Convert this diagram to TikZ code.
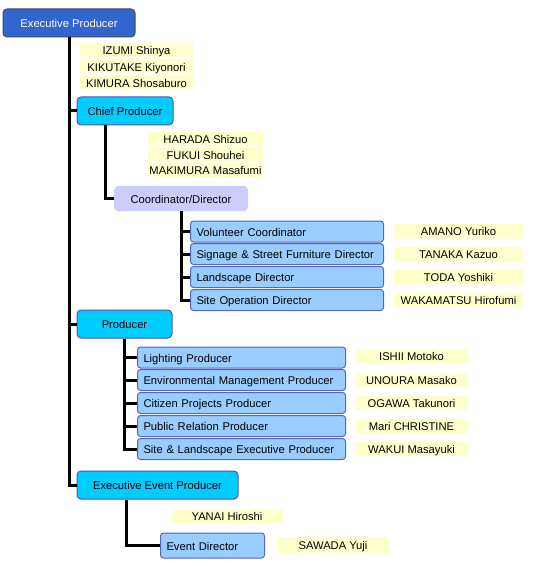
\documentclass[tikz,border=0pt]{standalone}
\usepackage{fontspec}
\setmainfont{Liberation Sans}
\usetikzlibrary{positioning}

\definecolor{topfill}{HTML}{3366CC}
\definecolor{topline}{HTML}{444466}
\definecolor{headfill}{HTML}{00CCFF}
\definecolor{headline}{HTML}{5555AA}
\definecolor{coordfill}{HTML}{CCCCFF}
\definecolor{subfill}{HTML}{99CCFF}
\definecolor{subline}{HTML}{5566BB}
\definecolor{personfill}{HTML}{FFFFCC}

\begin{document}
\begin{tikzpicture}[x=1pt, y=-1pt,
    every node/.style={font=\fontsize{11.2}{13}\selectfont, text height=11.2, text depth=2},
    top/.style={draw=topline, fill=topfill, text=white, rounded corners=4pt, minimum height=28, line width=1pt},
    head/.style={draw=headline, fill=headfill, rounded corners=4pt, minimum height=28, line width=1pt},
    coordbox/.style={fill=coordfill, rounded corners=4pt, minimum height=25},
    sub/.style={draw=subline, fill=subfill, rounded corners=3pt, minimum height=21, line width=1pt,
                anchor=west, inner xsep=6, inner ysep=1, align=left},
    person/.style={fill=personfill, rounded corners=1pt, minimum height=14, inner sep=0},
    link/.style={line width=3pt}]
            \useasboundingbox (0,0) rectangle (555,569);
            % top of the tree
            \node [top, minimum width=132] (exec) at (69,23) {Executive Producer};
            \node [person, minimum width=113] (izumi) at (136.5,50) {IZUMI Shinya};
            \node [person, minimum width=113] (kikutake) at (136.5,66.5) {KIKUTAKE Kiyonori};
            \node [person, minimum width=113] (kimura) at (136.5,82.5) {KIMURA Shosaburo};
            % chief producer
            \node [head, minimum width=96] (chief) at (125,111) {Chief Producer};
            \node [person, minimum width=115] (harada) at (205.5,139) {HARADA Shizuo};
            \node [person, minimum width=115] (fukui) at (205.5,155) {FUKUI Shouhei};
            \node [person, minimum width=115] (makimura) at (205.5,170) {MAKIMURA Masafumi};
            \node [coordbox, minimum width=134] (coord) at (181,198.5) {Coordinator/Director};
            \node [sub, text width=181] (vol) at (190,231.5) {Volunteer Coordinator};
            \node [sub, text width=181] (sign) at (190,254) {Signage \& Street Furniture Director};
            \node [sub, text width=181] (land) at (190,277) {Landscape Director};
            \node [sub, text width=181] (site) at (190,300) {Site Operation Director};
            \node [person, minimum width=129, minimum height=15] (amano) at (458.5,231) {AMANO Yuriko};
            \node [person, minimum width=129, minimum height=15] (tanaka) at (458.5,254) {TANAKA Kazuo};
            \node [person, minimum width=129, minimum height=15] (toda) at (458.5,277) {TODA Yoshiki};
            \node [person, minimum width=129, minimum height=15] (wakamatsu) at (458.5,300) {WAKAMATSU Hirofumi};
            % producer
            \node [head, minimum width=95] (prod) at (124.5,324) {Producer};
            \node [sub, text width=196] (light) at (137,357.5) {Lighting Producer};
            \node [sub, text width=196] (env) at (137,380) {Environmental Management Producer};
            \node [sub, text width=196] (citizen) at (137,403) {Citizen Projects Producer};
            \node [sub, text width=196] (public) at (137,426) {Public Relation Producer};
            \node [sub, text width=196] (sitelan) at (137,449) {Site \& Landscape Executive Producer};
            \node [person, minimum width=113] (ishii) at (411.5,356) {ISHII Motoko};
            \node [person, minimum width=113] (unoura) at (411.5,380) {UNOURA Masako};
            \node [person, minimum width=113] (ogawa) at (411.5,403) {OGAWA Takunori};
            \node [person, minimum width=113] (mari) at (411.5,426) {Mari CHRISTINE};
            \node [person, minimum width=113] (wakui) at (411.5,449) {WAKUI Masayuki};
            % executive event producer
            \node [head, minimum width=161] (eep) at (157.5,485) {Executive Event Producer};
            \node [person, minimum width=112] (yanai) at (227,516) {YANAI Hiroshi};
            \node [sub, text width=92, minimum height=25] (event) at (160,545.5) {Event Director};
            \node [person, minimum width=112, minimum height=16] (sawada) at (333,545) {SAWADA Yuji};
            % connectors
            \draw [link] (exec.south) |- (chief.west);
            \draw [link] (exec.south) |- (prod.west);
            \draw [link] (exec.south) |- (eep.west);
            \draw [link] ([xshift=-20]chief.south) |- (coord.west);
            \foreach \n in {vol, sign, land, site}
                \draw [link] (coord.south) |- (\n.west);
            \foreach \n in {light, env, citizen, public, sitelan}
                \draw [link] (prod.south) |- (\n.west);
            \draw [link] ([xshift=-31.5]eep.south) |- (event.west);
        \end{tikzpicture}
\end{document}
